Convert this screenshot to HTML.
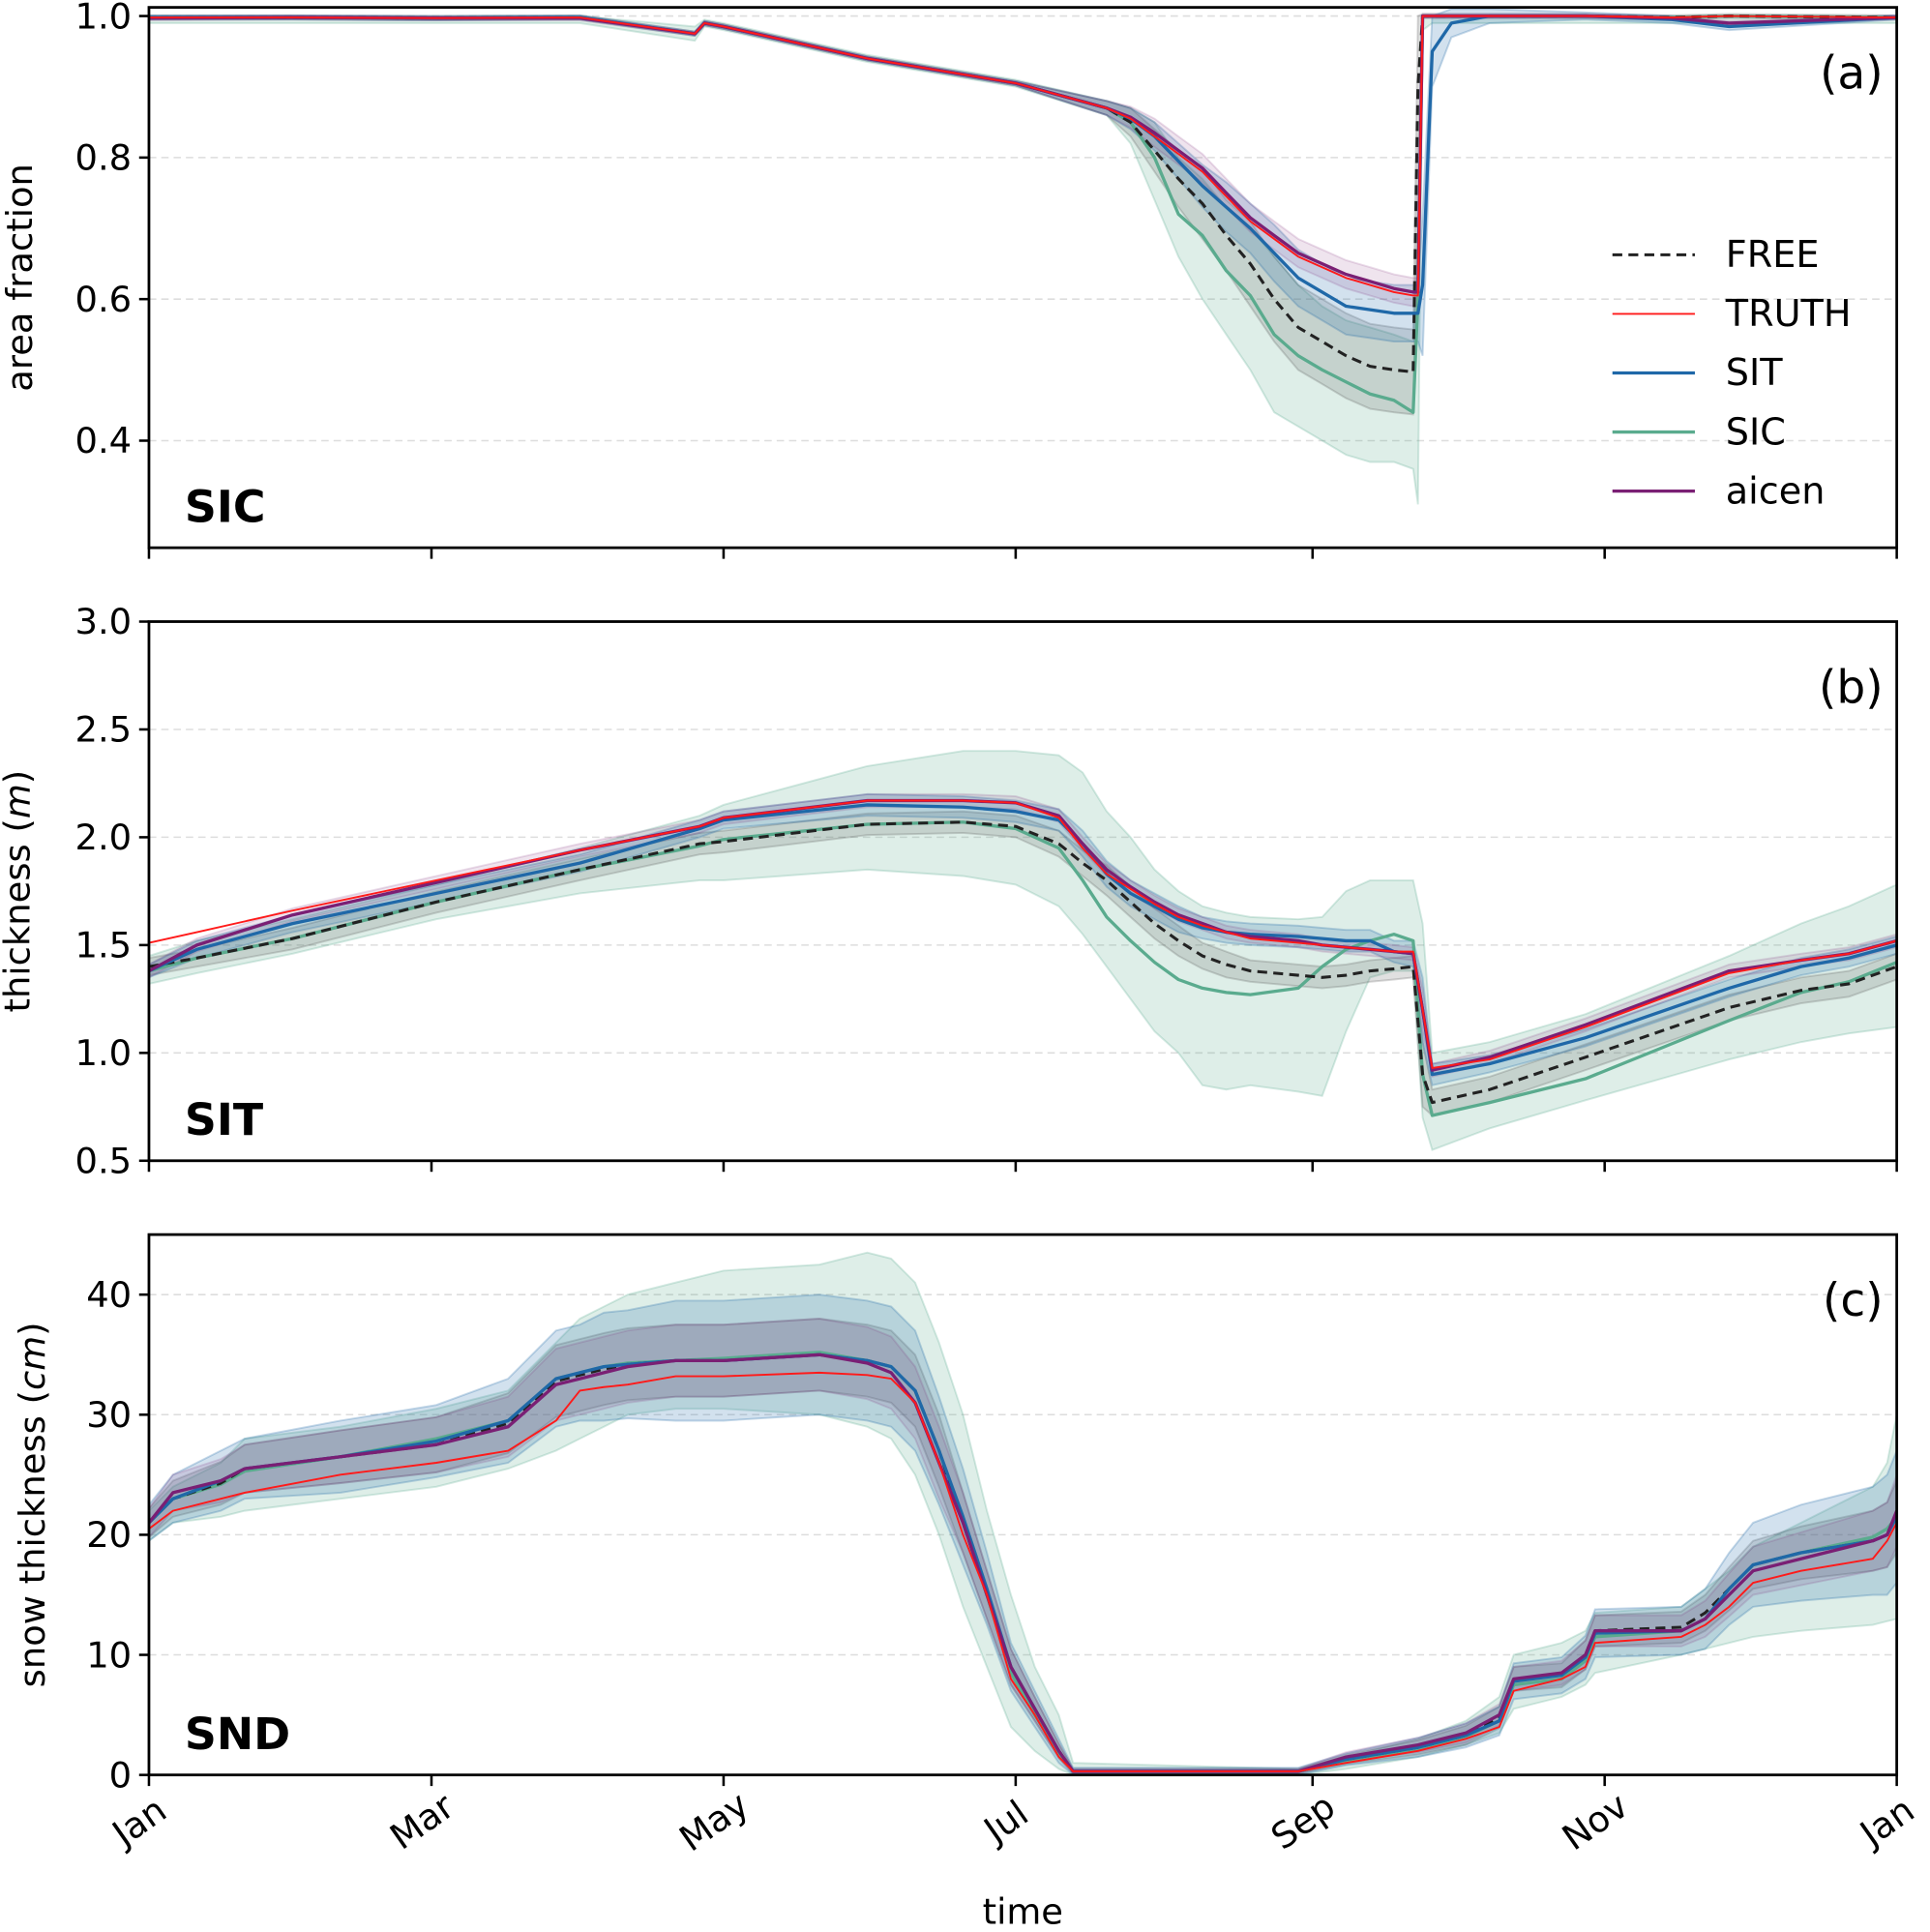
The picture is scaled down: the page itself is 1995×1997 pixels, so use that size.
<!DOCTYPE html>
<html><head><meta charset="utf-8"><style>
html,body{margin:0;padding:0;background:#fff}
svg{display:block}
text{font-family:"DejaVu Sans","Liberation Sans",sans-serif;fill:#000}
</style></head><body>
<svg id="chart" width="1995" height="1997" viewBox="0 0 1568 1569.6" xmlns="http://www.w3.org/2000/svg"></svg>
<script>
// ---------- Panel (a) SIC ----------
const aDays=[0,30,60,90,114,116,120,150,181,200,205,210,215,220,225,230,235,240,245,250,255,260,264,265,266,268,272,280,300,318,330,365];
const aTruth=[.998,.998,.997,.998,.975,.99,.985,.94,.905,.87,.855,.83,.805,.78,.745,.71,.685,.66,.645,.63,.62,.61,.605,.605,1,1,1,1,1,.998,1,.998];
const aAicen=[.997,.998,.997,.997,.975,.99,.985,.94,.905,.87,.857,.835,.81,.785,.75,.715,.69,.665,.65,.635,.625,.615,.61,.61,1,1,1,1,1,.997,.99,.998];
const aSit=[.998,.998,.997,.998,.975,.99,.985,.94,.905,.87,.855,.83,.795,.76,.73,.70,.665,.63,.61,.59,.585,.58,.58,.58,.62,.95,.99,1,1,.995,.985,.998];
const aFree=[.998,.998,.997,.998,.975,.99,.985,.94,.905,.87,.85,.81,.77,.735,.69,.65,.60,.56,.54,.52,.505,.50,.497,.90,1,1,1,1,1,.998,1,.998];
const aSic=[.998,.998,.997,.998,.975,.99,.985,.94,.905,.87,.85,.80,.72,.69,.64,.605,.55,.52,.50,.483,.466,.457,.44,.60,1,1,1,1,1,.998,1,.998];
const aSicLo=[.99,.99,.99,.99,.965,.985,.98,.935,.90,.86,.82,.74,.66,.60,.55,.50,.44,.42,.40,.38,.37,.37,.36,.31,.98,.99,.99,.99,.99,.99,.99,.99];
const aSicHi=[1,1,1,1,.985,.995,.99,.945,.91,.88,.87,.85,.80,.77,.73,.70,.66,.62,.59,.57,.56,.55,.54,.70,1,1,1,1,1,1,1,1];
const aSitSpread=[.003,.003,.003,.003,.003,.003,.003,.003,.003,.01,.015,.02,.025,.03,.035,.035,.04,.04,.04,.04,.04,.04,.04,.04,.1,.05,.02,.01,.005,.005,.005,.003];
const aFreeSpread=[.003,.003,.003,.003,.003,.003,.003,.003,.003,.01,.02,.03,.04,.05,.05,.06,.06,.06,.06,.06,.06,.06,.06,.1,.003,.003,.003,.003,.003,.003,.003,.003];
const aAicenSpread=[.003,.003,.003,.003,.003,.003,.003,.003,.003,.01,.015,.02,.02,.02,.02,.02,.02,.02,.02,.02,.02,.02,.02,.02,.003,.003,.003,.003,.003,.003,.003,.003];
const aTicks=[0.4,0.6,0.8,1.0];
const aTickLabels=["0.4","0.6","0.8","1.0"];
// ---------- Panel (b) SIT ----------
const bDays=[0,10,30,60,90,115,120,150,170,181,190,195,200,205,210,215,220,225,230,240,245,250,255,260,264,266,268,280,300,330,345,355,365];
const bTruth=[1.51,1.56,1.66,1.80,1.94,2.05,2.09,2.17,2.17,2.16,2.09,1.95,1.83,1.76,1.69,1.63,1.59,1.56,1.53,1.51,1.50,1.49,1.48,1.47,1.47,1.2,0.93,0.97,1.12,1.37,1.43,1.46,1.52];
const bAicen=[1.38,1.50,1.64,1.79,1.94,2.05,2.09,2.17,2.17,2.16,2.10,1.97,1.85,1.77,1.70,1.64,1.60,1.56,1.54,1.52,1.50,1.49,1.48,1.47,1.46,1.2,0.92,0.98,1.13,1.38,1.43,1.46,1.52];
const bSit=[1.38,1.48,1.60,1.74,1.88,2.04,2.08,2.15,2.14,2.12,2.08,1.97,1.83,1.74,1.68,1.62,1.58,1.56,1.55,1.54,1.53,1.52,1.52,1.47,1.46,1.2,0.90,0.95,1.07,1.30,1.40,1.44,1.50];
const bSic=[1.38,1.44,1.53,1.70,1.85,1.96,1.99,2.06,2.07,2.04,1.95,1.80,1.63,1.52,1.42,1.34,1.30,1.28,1.27,1.30,1.40,1.48,1.52,1.55,1.52,0.9,0.71,0.77,0.88,1.15,1.28,1.33,1.42];
const bFree=[1.40,1.44,1.53,1.70,1.85,1.97,1.98,2.06,2.07,2.05,1.97,1.88,1.80,1.70,1.60,1.52,1.45,1.41,1.38,1.36,1.35,1.36,1.38,1.39,1.40,0.9,0.77,0.83,0.98,1.21,1.29,1.32,1.40];
const bSicHi=[1.45,1.52,1.62,1.78,1.95,2.10,2.15,2.33,2.40,2.40,2.38,2.30,2.12,2.0,1.85,1.75,1.68,1.65,1.63,1.62,1.63,1.75,1.80,1.80,1.80,1.6,1.0,1.05,1.18,1.45,1.60,1.68,1.78];
const bSicLo=[1.32,1.37,1.46,1.62,1.74,1.80,1.80,1.85,1.82,1.78,1.68,1.55,1.40,1.25,1.10,1.0,0.85,0.83,0.85,0.82,0.80,1.1,1.35,1.38,1.38,0.7,0.55,0.65,0.78,0.97,1.05,1.09,1.12];
const bSitSpread=[.03,.04,.04,.04,.04,.04,.04,.05,.05,.05,.05,.06,.06,.06,.06,.06,.05,.05,.05,.05,.05,.05,.05,.05,.06,.15,.05,.04,.04,.04,.04,.04,.04];
const bFreeSpread=[.04,.04,.05,.05,.05,.05,.05,.05,.05,.05,.06,.06,.07,.07,.07,.07,.06,.06,.05,.05,.05,.05,.05,.05,.05,.15,.06,.06,.06,.06,.06,.06,.06];
const bAicenSpread=[.03,.03,.03,.03,.03,.03,.03,.03,.03,.03,.03,.03,.03,.03,.03,.03,.03,.03,.03,.03,.03,.03,.03,.03,.03,.1,.03,.03,.03,.03,.03,.03,.03];
const bTicks=[0.5,1.0,1.5,2.0,2.5,3.0];
const bTickLabels=["0.5","1.0","1.5","2.0","2.5","3.0"];
// ---------- Panel (c) SND ----------
const cDays=[0,5,15,20,40,60,75,85,90,95,100,110,120,140,150,155,160,165,170,175,180,185,190,193,240,250,265,275,282,285,295,300,302,320,325,330,335,345,360,363,365];
const cTruth=[20.5,22,23,23.5,25,26,27,29.5,32,32.3,32.5,33.2,33.2,33.5,33.3,33,31,26,20,15,8,5,1.5,0.3,0.3,1,2,3,4,7,8,9,11,11.5,12.5,14,16,17,18,19.5,21];
const cAicen=[21,23.5,24.5,25.5,26.5,27.5,29,32.5,33,33.5,34,34.5,34.5,35,34.3,33.5,31,26,21,15,9,5.5,2,0.3,0.3,1.5,2.5,3.5,5,8,8.5,10,12,12,13,15,17,18,19.5,20,22];
const cSit=[21,23,24.5,25.5,26.5,27.8,29.5,33,33.5,34,34.2,34.5,34.5,35,34.5,34,32,27,21.5,15.5,9,5.5,2,0.3,0.3,1.3,2.3,3.3,4.5,7.8,8.3,9.8,11.8,12,13,15.5,17.5,18.5,19.5,20,21.5];
const cSic=[21,23,24.2,25.3,26.5,28,29.5,33,33.5,34,34.3,34.5,34.7,35.2,34.5,34,32,27,21,15,8.5,5,1.8,0.3,0.3,1.2,2.2,3.2,4.5,7.5,8,9.5,11.5,12,13,15.5,17.5,18.5,19.8,20.5,21.5];
const cFree=[21,23,24.3,25.5,26.5,27.5,29.3,32.8,33.3,33.8,34.2,34.5,34.5,35,34.5,34,32,27,21,15,9,5.5,2,0.3,0.3,1.3,2.3,3.3,4.8,8,8.3,10,12,12.3,13.5,15.5,17.5,18.5,19.5,20,21.5];
const cSicHi=[22,24,26,28,29,30.5,32,36,38,39,40,41,42,42.5,43.5,43,41,36,30,22,15,9,5,1,0.5,1.5,3,4.5,6.5,10,11,12,13.5,14,15.5,17,19,21,24,26,30];
const cSicLo=[19.5,21,21.5,22,23,24,25.5,27,28,29,30,30.5,30.5,30,29,28,25,20,14,9,4,2,0.5,0,0,0.5,1.5,2.5,3.5,5.5,6.5,7.5,8.5,10,10.5,11,11.5,12,12.5,12.8,13];
const cSitSpread=[1.5,2,2.5,2.5,3,3,3.5,4,4,4.5,4.5,5,5,5,5,5,5,4.5,4,3,2,1.5,1,0.3,0.3,0.5,0.8,1,1.2,1.5,1.5,1.8,2,2,2.5,3,3.5,4,4.5,5,5.5];
const cSmallSpread=[1.2,1.5,1.8,2,2.2,2.3,2.5,3,3,3,3,3,3,3,3,3,3,3,2.5,2,1.5,1,0.6,0.2,0.2,0.4,0.6,0.8,0.9,1,1,1.2,1.3,1.3,1.5,1.8,2,2.2,2.5,2.7,3];
const cTicks=[0,10,20,30,40];
const cTickLabels=["0","10","20","30","40"];
// ---------- x axis ----------
const monthDays=[0,59,120,181,243,304,365];
const monthLabels=["Jan","Mar","May","Jul","Sep","Nov","Jan"];

const NS="http://www.w3.org/2000/svg";
const svg=document.getElementById('chart');
const X0=121,X1=1541;
function xs(d){return X0+(X1-X0)*d/365;}
function mk(tag,attrs,parent){const e=document.createElementNS(NS,tag);for(const k in attrs)e.setAttribute(k,attrs[k]);(parent||svg).appendChild(e);return e;}
const C={sic:"#5aab8e",sit:"#1f68a8",free:"#222",truth:"#ff1a1a",aicen:"#7a1f74"};

function panel(p){
  const g=mk('g',{});
  
  
  const ys=v=>p.bot-(v-p.vmin)/(p.vmax-p.vmin)*(p.bot-p.top);
  p.ticks.forEach((t,i)=>{
    const y=ys(t);
    const gl=mk('line',{x1:X0,x2:X1,y1:y,y2:y,stroke:'#ddd','stroke-width':1.2,'stroke-dasharray':'6,4'},g);
    
    
    mk('line',{x1:X0-8,x2:X0,y1:y,y2:y,stroke:'#000','stroke-width':2},g);
    const tl=mk('text',{x:X0-14,y:y+10,'text-anchor':'end','font-size':29},g);
    tl.textContent=p.tickLabels[i];
    
    
  });
  const clip='clip'+p.name;
  const cp=mk('clipPath',{id:clip},g);mk('rect',{x:X0,y:p.top,width:X1-X0,height:p.bot-p.top},cp);
  const plot=mk('g',{'clip-path':'url(#'+clip+')'},g);
  function band(lo,hi,col,op,name){
    let d='';
    p.days.forEach((dd,i)=>{d+=(i?'L':'M')+xs(dd).toFixed(1)+','+ys(hi[i]).toFixed(1);});
    for(let i=p.days.length-1;i>=0;i--)d+='L'+xs(p.days[i]).toFixed(1)+','+ys(lo[i]).toFixed(1);
    const e=mk('path',{d:d+'Z',fill:col,'fill-opacity':op,stroke:col,'stroke-opacity':op*1.3,'stroke-width':1.5},plot);
    
    
  }
  function spreadBand(vals,sp,col,op,name){
    band(vals.map((v,i)=>v-sp[i]),vals.map((v,i)=>v+sp[i]),col,op,name);
  }
  function line(vals,col,w,dash,name){
    const pts=p.days.map((d,i)=>xs(d).toFixed(1)+','+ys(vals[i]).toFixed(1)).join(' ');
    const a={points:pts,fill:'none',stroke:col,'stroke-width':w,'stroke-linejoin':'round'};
    if(dash)a['stroke-dasharray']=dash;
    const e=mk('polyline',a,plot);
    
    
  }
  band(p.sicLo,p.sicHi,C.sic,0.2,'sic-spread-band');
  spreadBand(p.free,p.freeSp,'#555',0.18,'free-spread-band');
  spreadBand(p.sit,p.sitSp,C.sit,0.2,'sit-spread-band');
  spreadBand(p.aicen,p.aicenSp,C.aicen,0.12,'aicen-spread-band');
  line(p.sic,C.sic,2.6,null,'sic-line');
  line(p.free,C.free,2.4,'8,5','free-line');
  line(p.sit,C.sit,2.6,null,'sit-line');
  line(p.aicen,C.aicen,2.6,null,'aicen-line');
  line(p.truth,C.truth,1.5,null,'truth-line');
  const fr=mk('rect',{x:X0,y:p.top,width:X1-X0,height:p.bot-p.top,fill:'none',stroke:'#000','stroke-width':2.2},g);
  
  
  monthDays.forEach(d=>mk('line',{x1:xs(d),x2:xs(d),y1:p.bot,y2:p.bot+9,stroke:'#000','stroke-width':2},g));
  const tag=mk('text',{x:150,y:p.bot-21,'font-size':36,'font-weight':'bold'},g);
  tag.textContent=p.tag;
  
  
  const let_=mk('text',{x:1530,y:p.top+66,'font-size':37,'text-anchor':'end'},g);
  let_.textContent=p.letter;
  
  
  const yl=mk('text',{x:0,y:0,'font-size':29,'text-anchor':'middle',transform:`translate(${p.ylx},${(p.top+p.bot)/2}) rotate(-90)`},g);
  yl.innerHTML=p.ylabel;
  
  
  return ys;
}

panel({name:'sic',top:6,bot:445,vmin:0.2487,vmax:1.0122,days:aDays,truth:aTruth,aicen:aAicen,sit:aSit,free:aFree,sic:aSic,sicLo:aSicLo,sicHi:aSicHi,sitSp:aSitSpread,freeSp:aFreeSpread,aicenSp:aAicenSpread,ticks:aTicks,tickLabels:aTickLabels,tag:'SIC',letter:'(a)',ylabel:'area fraction',ylx:26});
panel({name:'sit',top:505,bot:943,vmin:0.5,vmax:3.0,days:bDays,truth:bTruth,aicen:bAicen,sit:bSit,free:bFree,sic:bSic,sicLo:bSicLo,sicHi:bSicHi,sitSp:bSitSpread,freeSp:bFreeSpread,aicenSp:bAicenSpread,ticks:bTicks,tickLabels:bTickLabels,tag:'SIT',letter:'(b)',ylabel:'thickness (<tspan font-style="italic">m</tspan>)',ylx:24});
panel({name:'snd',top:1003,bot:1442,vmin:0,vmax:45,days:cDays,truth:cTruth,aicen:cAicen,sit:cSit,free:cFree,sic:cSic,sicLo:cSicLo,sicHi:cSicHi,sitSp:cSitSpread,freeSp:cSmallSpread,aicenSp:cSmallSpread,ticks:cTicks,tickLabels:cTickLabels,tag:'SND',letter:'(c)',ylabel:'snow thickness (<tspan font-style="italic">cm</tspan>)',ylx:36});

monthDays.forEach((d,i)=>{
  const t=mk('text',{x:0,y:0,'font-size':29,'text-anchor':'middle',transform:`translate(${xs(d)-2},${1488}) rotate(-35)`});
  t.textContent=monthLabels[i];
  
  
});
const xt=mk('text',{x:831,y:1563,'font-size':29,'text-anchor':'middle'});
xt.textContent='time';



const legItems=[['FREE',C.free,2.4,'8,5'],['TRUTH',C.truth,1.5,null],['SIT',C.sit,2.6,null],['SIC',C.sic,2.6,null],['aicen',C.aicen,2.6,null]];
const lg=mk('g',{});


legItems.forEach((it,i)=>{
  const y=207+i*48;
  const e=mk('g',{},lg);
  
  
  const a={x1:1310,x2:1377,y1:y,y2:y,stroke:it[1],'stroke-width':it[2]};
  if(it[3])a['stroke-dasharray']=it[3];
  mk('line',a,e);
  const t=mk('text',{x:1402,y:y+10,'font-size':30},e);
  t.textContent=it[0];
});
</script>
</body></html>
